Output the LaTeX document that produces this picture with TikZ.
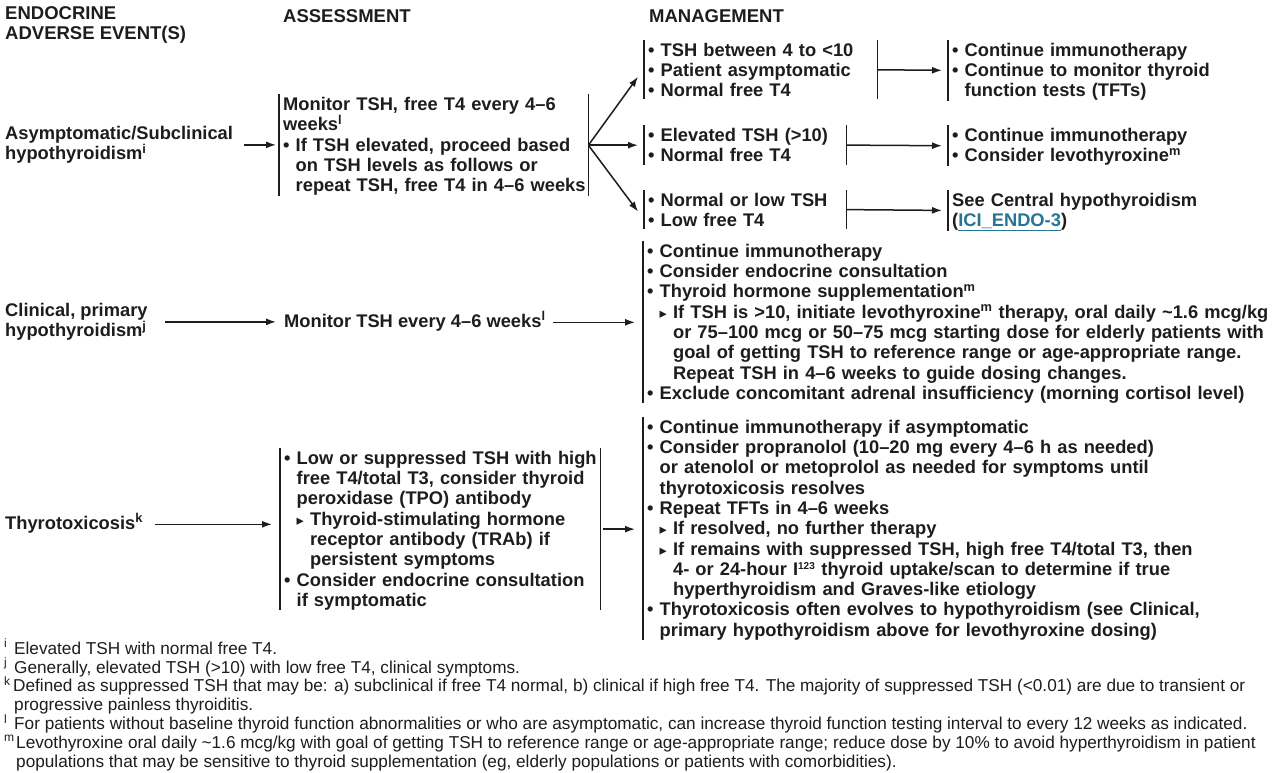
\documentclass[tikz,border=0pt]{standalone}
\usepackage{fontspec}
\setmainfont{Liberation Sans}
\newfontfamily\symfont{DejaVu Sans}
\usetikzlibrary{arrows.meta}
\definecolor{ink}{RGB}{30,28,29}
\definecolor{linkc}{RGB}{38,116,150}
\newcommand\ind{\hphantom{• }}
\newcommand\tri{{\symfont\fontsize{14.5}{12}\selectfont ▸}}
\newcommand\tind{\hphantom{\tri\ }}
\newcommand\nb[1]{\mbox{#1}}
\newcommand\topstr{\rule{0pt}{16pt}}
\newcommand\botstr{\rule[-2.5pt]{0pt}{2.5pt}}
\tikzset{
  body/.style={font=\fontsize{18.3}{20.3}\selectfont\bfseries, text=ink,
    inner ysep=0pt, inner xsep=4pt, anchor=north west, align=left,
    execute at begin node=\topstr, execute at end node=\botstr},
  lab/.style={body, inner xsep=0pt},
  one/.style={font=\fontsize{18.3}{20.3}\selectfont\bfseries, text=ink,
    inner sep=0pt, anchor=base west, text height=14pt, text depth=4.6pt},
  head/.style={font=\fontsize{18.5}{20.3}\selectfont\bfseries, text=ink,
    inner sep=0pt, anchor=north west, align=left,
    execute at begin node=\topstr},
  foot/.style={font=\fontsize{17.2}{18.8}\selectfont, text=ink,
    inner sep=0pt, anchor=north west, align=left,
    execute at begin node=\rule{0pt}{14pt}},
  barline/.style={draw=ink, line width=1.5pt},
  arr/.style={draw=ink, line width=1.5pt, -{Latex[length=10pt,width=7pt]}},
}
\begin{document}
\begin{tikzpicture}[x=1pt,y=-1pt]
\fill[white] (0,0) rectangle (1280,773);
\useasboundingbox (0,0) rectangle (1280,773);

% headers
\node[head] (H1) at (5,6) {ENDOCRINE\\ADVERSE EVENT(S)};
\node[head] (H2) at (283,6) {ASSESSMENT};
\node[head] (H3) at (649,6) {MANAGEMENT};

% row 1
\node[lab] (L1) at (5,126) {Asymptomatic/Subclinical\\hypothyroidism\textsuperscript{i}};
\node[body, text width=301pt] (A1) at (279,94.5) {%
\nb{Monitor TSH, free T4 every 4–6}\\
\nb{weeks\textsuperscript{l}}\\
\nb{• If TSH elevated, proceed based}\\
\nb{\ind on TSH levels as follows or}\\
\nb{\ind repeat TSH, free T4 in 4–6 weeks}};

\node[body, text width=225pt] (B1) at (644,40) {%
\nb{• TSH between 4 to <10}\\
\nb{• Patient asymptomatic}\\
\nb{• Normal free T4}};
\node[body, text width=320pt] (C1) at (948,40) {%
• Continue immunotherapy\\
• Continue to monitor thyroid\\
\ind function tests (TFTs)};

\node[body, text width=194pt] (B2) at (644,125.5) {%
\nb{• Elevated TSH (>10)}\\
\nb{• Normal free T4}};
\node[body, text width=320pt] (C2) at (948,125.5) {%
• Continue immunotherapy\\
• Consider levothyroxine\textsuperscript{m}};

\node[body, text width=194pt] (B3) at (644,190) {%
\nb{• Normal or low TSH}\\
\nb{• Low free T4}};
\node[body, text width=320pt] (C3) at (948,190) {%
See Central hypothyroidism\\
(\textcolor{linkc}{\underline{ICI\_ENDO-3}})};

% row 2
\node[lab] (L2) at (5,303) {Clinical, primary\\hypothyroidism\textsuperscript{j}};
\node[one] (A2) at (284,327) {Monitor TSH every 4–6 weeks\textsuperscript{l}};
\node[body, text width=630pt] (M2) at (643,241) {%
• Continue immunotherapy\\
• Consider endocrine consultation\\
• Thyroid hormone supplementation\textsuperscript{m}\\
\ind\tri\ If TSH is >10, initiate levothyroxine\textsuperscript{m} therapy, oral daily \textasciitilde1.6 mcg/kg\\
\ind\tind or 75–100 mcg or 50–75 mcg starting dose for elderly patients with\\
\ind\tind goal of getting TSH to reference range or age-appropriate range.\\
\ind\tind Repeat TSH in 4–6 weeks to guide dosing changes.\\
• Exclude concomitant adrenal insufficiency (morning cortisol level)};

% row 3
\node[one] (L3) at (5,529) {Thyrotoxicosis\textsuperscript{k}};
\node[body, text width=312pt] (A3) at (280,448) {%
\nb{• Low or suppressed TSH with high}\\
\nb{\ind free T4/total T3, consider thyroid}\\
\nb{\ind peroxidase (TPO) antibody}\\
\nb{\ind\tri\ Thyroid-stimulating hormone}\\
\nb{\ind\tind receptor antibody (TRAb) if}\\
\nb{\ind\tind persistent symptoms}\\
\nb{• Consider endocrine consultation}\\
\nb{\ind if symptomatic}};
\node[body, text width=630pt] (M3) at (643,417) {%
• Continue immunotherapy if asymptomatic\\
• Consider propranolol (10–20 mg every 4–6 h as needed)\\
\ind or atenolol or metoprolol as needed for symptoms until\\
\ind thyrotoxicosis resolves\\
• Repeat TFTs in 4–6 weeks\\
\ind\tri\ If resolved, no further therapy\\
\ind\tri\ If remains with suppressed TSH, high free T4/total T3, then\\
\ind\tind 4- or 24-hour I\textsuperscript{\fontsize{10}{10}\selectfont 123} thyroid uptake/scan to determine if true\\
\ind\tind hyperthyroidism and Graves-like etiology\\
• Thyrotoxicosis often evolves to hypothyroidism (see Clinical,\\
\ind primary hypothyroidism above for levothyroxine dosing)};

% footnotes
\node[foot] (FN) at (4,639) {%
\makebox[10pt][l]{\textsuperscript{i}}Elevated TSH with normal free T4.\\
\makebox[10pt][l]{\textsuperscript{j}}Generally, elevated TSH (>10) with low free T4, clinical symptoms.\\
\makebox[9pt][l]{\textsuperscript{k}}Defined as suppressed TSH that may be: a) subclinical if free T4 normal, b) clinical if high free T4. The majority of suppressed TSH (<0.01) are due to transient or\\
\hspace*{10pt}progressive painless thyroiditis.\\
\makebox[10pt][l]{\textsuperscript{l}}For patients without baseline thyroid function abnormalities or who are asymptomatic, can increase thyroid function testing interval to every 12 weeks as indicated.\\
\makebox[12pt][l]{\textsuperscript{m}}Levothyroxine oral daily \textasciitilde1.6 mcg/kg with goal of getting TSH to reference range or age-appropriate range; reduce dose by 10\% to avoid hyperthyroidism in patient\\
\hspace*{12pt}populations that may be sensitive to thyroid supplementation (eg, elderly populations or patients with comorbidities).};

% bars
\foreach \n in {A1,B1,C1,B2,C2,B3,C3,M2,A3,M3}
  \draw[barline] (\n.north west) -- (\n.south west);
\foreach \n in {A1,B1,B2,B3,A3}
  \draw[barline] (\n.north east) -- (\n.south east);

% connectors
\draw[arr, shorten <=11pt, shorten >=3pt] (L1.east) -- (L1.east -| A1.west);
\draw[arr, shorten <=1pt] (A1.east) -- ([xshift=-6pt,yshift=-7pt]B1.west);
\draw[arr, shorten <=1pt, shorten >=6pt] (A1.east) -- (A1.east -| B2.west);
\draw[arr, shorten <=1pt] (A1.east) -- ([xshift=-6pt,yshift=-2pt]B3.west);
\draw[arr, shorten >=6pt] (B1.east) -- (C1.west);
\draw[arr, shorten >=6pt] (B2.east) -- (C2.west);
\draw[arr, shorten >=6pt] (B3.east) -- (C3.west);
\draw[arr, shorten <=17pt, shorten >=8pt] (L2.east) -- (L2.east -| A2.west);
\draw[arr, shorten <=7pt, shorten >=8pt] (A2.east) -- (A2.east -| M2.west);
\draw[arr, shorten <=12pt, shorten >=8pt] (L3.east) -- (L3.east -| A3.west);
\draw[arr, shorten <=3pt, shorten >=8pt] (A3.east) -- (A3.east -| M3.west);
\end{tikzpicture}
\end{document}
